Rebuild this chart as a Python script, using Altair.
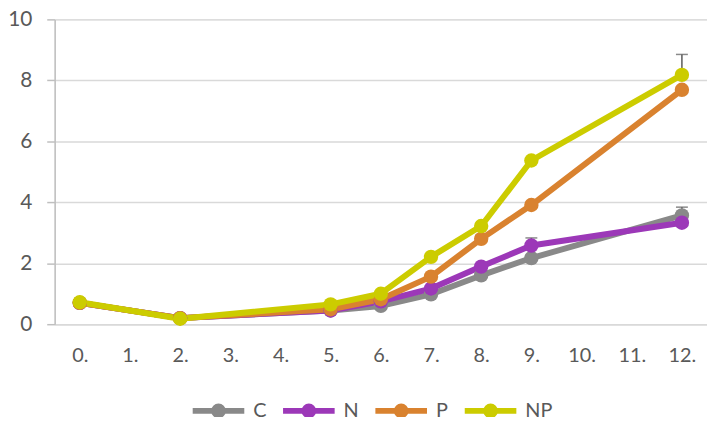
import altair as alt
import pandas as pd

x_days = [0, 2, 5, 6, 7, 8, 9, 12]
series = ["C", "N", "P", "NP"]
vals_C = [0.70, 0.20, 0.45, 0.60, 0.98, 1.60, 2.17, 3.57]
vals_N = [0.70, 0.20, 0.45, 0.75, 1.17, 1.89, 2.58, 3.33]
vals_P = [0.70, 0.20, 0.49, 0.82, 1.56, 2.80, 3.91, 7.69]
vals_NP = [0.72, 0.18, 0.65, 1.00, 2.21, 3.22, 5.37, 8.18]
err_C = [0, 0, 0, 0, 0, 0, 0, 0.27]
err_N = [0, 0, 0, 0, 0, 0, 0.25, 0]
err_P = [0, 0, 0, 0, 0, 0.12, 0, 0.1]
err_NP = [0, 0, 0, 0, 0, 0, 0, 0.67]
colors = ["#898989", "#9C38B8", "#D9822F", "#CCCC00"]
x_ticks = list(range(13))

rows = []
for name, vals, errs in zip(series, [vals_C, vals_N, vals_P, vals_NP], [err_C, err_N, err_P, err_NP]):
    for xv, v, e in zip(x_days, vals, errs):
        rows.append({"x": xv, "y": v, "s": name, "hi": v + e, "e": e})
df = pd.DataFrame(rows)

font = "Lato"
xenc = alt.X("x:Q", scale=alt.Scale(domain=[-0.5, 12.5], nice=False, zero=False),
             axis=alt.Axis(values=x_ticks, labelExpr="datum.value + '.'", grid=False, ticks=False,
                           domainColor="#d9d9d9", domainWidth=1.5, labelFontSize=20, labelColor="#595959",
                           labelPadding=22, labelFont=font, title=None))
yenc = alt.Y("y:Q", scale=alt.Scale(domain=[0, 10], nice=False),
             axis=alt.Axis(values=[0, 2, 4, 6, 8, 10], grid=True, gridColor="#d9d9d9", gridWidth=1.5,
                           domainColor="#bfbfbf", domainWidth=1.5, tickColor="#bfbfbf", tickSize=8,
                           tickWidth=1.5, labelFontSize=21, labelColor="#595959", labelPadding=15,
                           labelFont=font, title=None))
color = alt.Color("s:N", scale=alt.Scale(domain=series, range=colors),
                  legend=alt.Legend(orient="none", direction="horizontal", legendX=136, legendY=365,
                                    title=None, labelFontSize=20, labelColor="#595959", labelFont=font,
                                    symbolType="M-1,0H1M-0.17,0A0.17,0.17 0 1,0 0.17,0A0.17,0.17 0 1,0 -0.17,0",
                                    symbolSize=2700, symbolStrokeWidth=6, columnPadding=4,
                                    labelOffset=6, symbolOpacity=1))

base = alt.Chart(df)

errs = base.transform_filter("datum.e > 0").mark_rule(color="#595959", strokeWidth=1.5).encode(
    x="x:Q", y="y:Q", y2="hi:Q")
caps = base.transform_filter("datum.e > 0").mark_tick(color="#595959", thickness=1.5, size=12,
                                                      orient="horizontal").encode(x="x:Q", y="hi:Q")
lines = base.mark_line(strokeWidth=6, strokeCap="round", strokeJoin="round").encode(
    x=xenc, y=yenc, color=color, order="x:Q")
pts = base.mark_circle(size=210, opacity=1).encode(x="x:Q", y="y:Q", color=color)

chart = alt.layer(errs, caps, lines, pts).properties(
    width=657, height=307,
    autosize=alt.AutoSizeParams(type="none"),
    padding={"left": 47, "top": 10, "right": 0, "bottom": 92},
).configure_view(stroke=None).configure(background="white")

chart.save("out.html", embed_options={"renderer": "svg", "actions": False})
